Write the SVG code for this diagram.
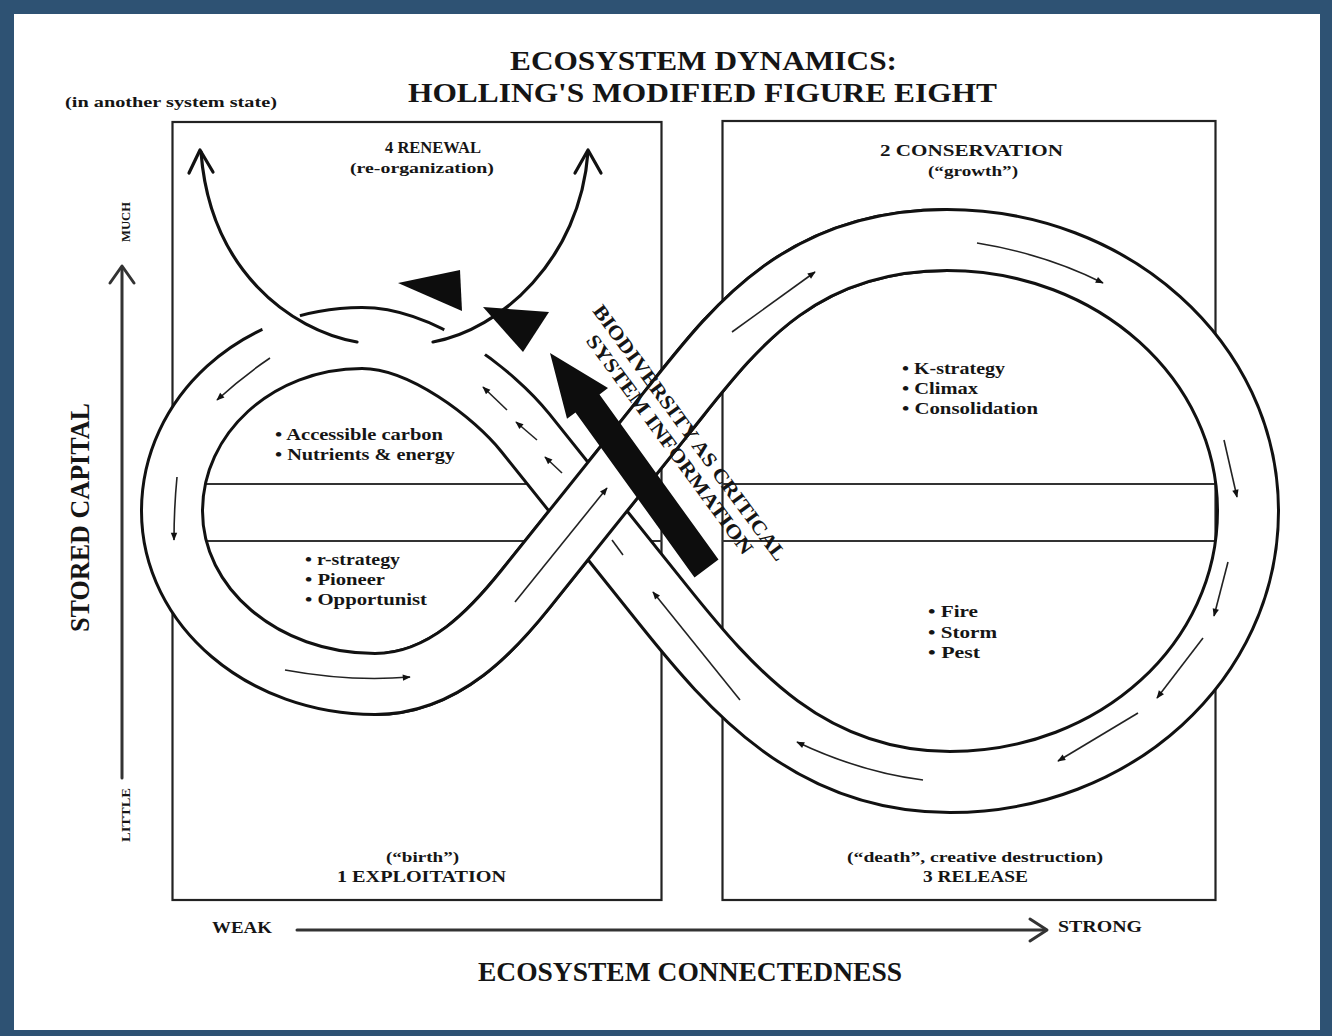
<svg xmlns="http://www.w3.org/2000/svg" width="1332" height="1036" viewBox="0 0 1332 1036">
<defs>
<style>
.t{font-family:"Liberation Serif","Times New Roman",serif;font-weight:bold;fill:#151515}
.edge{fill:none;stroke:#111;stroke-width:64;stroke-linecap:butt;stroke-linejoin:round}
.inner{fill:none;stroke:#fff;stroke-width:58;stroke-linecap:butt;stroke-linejoin:round}
.box{fill:none;stroke:#222;stroke-width:2.2}
.hl{stroke:#333;stroke-width:2}
.fa{fill:none;stroke:#222;stroke-width:1.6;marker-end:url(#ah)}
.tick{fill:none;stroke:#222;stroke-width:1.6}
.ax{fill:none;stroke:#333;stroke-width:3;stroke-linecap:round;stroke-linejoin:round}
.ren{fill:none;stroke:#111;stroke-width:3.2;stroke-linecap:round;stroke-linejoin:round}
.blk{fill:#0d0d0d}
</style>
<marker id="ah" viewBox="0 0 10 10" refX="9" refY="5" markerWidth="9" markerHeight="8" markerUnits="userSpaceOnUse" orient="auto">
<path d="M0,1 L10,5 L0,9 Z" fill="#111"/>
</marker>
<path id="band" d="M362,338 C257,338 172,415.5 172,511 C172,607 263,684 375,684 C445,684 494.3,628.1 525.5,589.1 L588,511 L669.3,409.5 C731.8,331.4 797,240 947,240 C1113,240 1248,361 1248,511 C1248,661 1116,782 950,782 C810,782 731.75,690.6 663,604.7 L588,511 L525.5,432.9 C494.25,393.85 422,338 362,338 Z"/>
<path id="over" d="M375,684 C445,684 494.3,628.1 525.5,589.1 L588,511 L669.3,409.5 C731.8,331.4 797,240 947,240"/>
</defs>

<rect width="1332" height="1036" fill="#2e5273"/>
<rect x="14" y="14" width="1306" height="1016" fill="#ffffff"/>

<g id="title">
<text class="t" x="510" y="70" font-size="27" textLength="387" lengthAdjust="spacingAndGlyphs">ECOSYSTEM DYNAMICS:</text>
<text class="t" x="408" y="102" font-size="27" textLength="589" lengthAdjust="spacingAndGlyphs">HOLLING'S MODIFIED FIGURE EIGHT</text>
<text class="t" x="65" y="107" font-size="14" textLength="212" lengthAdjust="spacingAndGlyphs">(in another system state)</text>
</g>

<g id="boxes">
<rect id="box-left" class="box" x="172.5" y="122" width="489" height="778"/>
<rect id="box-right" class="box" x="722.5" y="121" width="493" height="779"/>
<line class="hl" x1="190" y1="484" x2="662" y2="484"/>
<line class="hl" x1="190" y1="541" x2="662" y2="541"/>
<line class="hl" x1="722" y1="484" x2="1230" y2="484"/>
<line class="hl" x1="722" y1="541" x2="1230" y2="541"/>
</g>

<g id="figure-eight">
<use href="#band" class="edge"/>
<use href="#band" class="inner"/>
<use href="#over" class="edge"/>
<use href="#over" class="inner"/>
<circle cx="281" cy="322" r="20" fill="#fff"/>
<circle cx="466" cy="340" r="24" fill="#fff"/>
</g>

<g id="connectors">
<path class="fa" d="M270,358 Q242,377 217,400"/>
<path class="fa" d="M177,477 Q174,508 174,540"/>
<path class="fa" d="M285,670 Q350,682 410,677"/>
<path class="fa" d="M515,602 L607,488"/>
<path class="fa" d="M732,332 L815,272"/>
<path class="fa" d="M977,243 Q1045,254 1103,283"/>
<path class="fa" d="M1224,440 L1237,497"/>
<path class="fa" d="M1228,562 L1214,616"/>
<path class="fa" d="M1203,638 L1157,698"/>
<path class="fa" d="M1138,713 L1058,761"/>
<path class="fa" d="M923,780 Q860,772 797,742"/>
<path class="fa" d="M507,410 L483,387"/>
<path class="fa" d="M537,440 L516,422"/>
<path class="fa" d="M562,473 L545,457"/>
<path class="tick" d="M612,540 L623,555"/>
<path class="fa" d="M740,700 L653,592"/>

<path class="ren" d="M357,342 C290,330 210,270 201,152"/>
<path class="ren" d="M189,173 L200,150 L213,172"/>
<path class="ren" d="M433,342 C500,330 580,260 588,152"/>
<path class="ren" d="M575,173 L588,150 L601,173"/>
<polygon class="blk" points="398,283 460,270 462,311"/>
<polygon class="blk" points="483,307 549,312 523,352"/>

<g id="axes">
<path class="ax" d="M122,778 L122,268"/>
<path class="ax" d="M110,283 L122,266 L134,283"/>
<path class="ax" d="M297,930 L1046,930"/>
<path class="ax" d="M1030,919 L1047,930 L1030,941"/>
</g>
</g>

<g id="biodiversity-arrow">
<polygon class="blk" points="550,353 608,388 599.5,394.6 718.5,559.6 694.5,577.4 575.5,412.4 567,418.7"/>
<g transform="translate(592,311) rotate(53.7)">
<text class="t" x="0" y="0" font-size="20" textLength="312" lengthAdjust="spacingAndGlyphs">BIODIVERSITY AS CRITICAL</text>
<text class="t" x="20" y="23" font-size="20" textLength="267" lengthAdjust="spacingAndGlyphs">SYSTEM INFORMATION</text>
</g>
</g>

<g id="renewal">
<text class="t" x="385" y="153" font-size="16" textLength="96" lengthAdjust="spacingAndGlyphs">4 RENEWAL</text>
<text class="t" x="350" y="173" font-size="15" textLength="144" lengthAdjust="spacingAndGlyphs">(re-organization)</text>
</g>

<g id="conservation">
<text class="t" x="880" y="156" font-size="16" textLength="183" lengthAdjust="spacingAndGlyphs">2 CONSERVATION</text>
<text class="t" x="928" y="176" font-size="15" textLength="90" lengthAdjust="spacingAndGlyphs">(“growth”)</text>
<text class="t" x="902" y="374" font-size="16" textLength="103" lengthAdjust="spacingAndGlyphs">• K-strategy</text>
<text class="t" x="902" y="394" font-size="16" textLength="76" lengthAdjust="spacingAndGlyphs">• Climax</text>
<text class="t" x="902" y="414" font-size="16" textLength="136" lengthAdjust="spacingAndGlyphs">• Consolidation</text>
</g>

<g id="exploitation">
<text class="t" x="275" y="440" font-size="16" textLength="168" lengthAdjust="spacingAndGlyphs">• Accessible carbon</text>
<text class="t" x="275" y="460" font-size="16" textLength="180" lengthAdjust="spacingAndGlyphs">• Nutrients &amp; energy</text>
<text class="t" x="305" y="565" font-size="16" textLength="95" lengthAdjust="spacingAndGlyphs">• r-strategy</text>
<text class="t" x="305" y="585" font-size="16" textLength="80" lengthAdjust="spacingAndGlyphs">• Pioneer</text>
<text class="t" x="305" y="605" font-size="16" textLength="122" lengthAdjust="spacingAndGlyphs">• Opportunist</text>
<text class="t" x="386" y="862" font-size="15" textLength="73" lengthAdjust="spacingAndGlyphs">(“birth”)</text>
<text class="t" x="337" y="882" font-size="16" textLength="169" lengthAdjust="spacingAndGlyphs">1 EXPLOITATION</text>
</g>

<g id="release">
<text class="t" x="928" y="617" font-size="16" textLength="50" lengthAdjust="spacingAndGlyphs">• Fire</text>
<text class="t" x="928" y="638" font-size="16" textLength="69" lengthAdjust="spacingAndGlyphs">• Storm</text>
<text class="t" x="928" y="658" font-size="16" textLength="52" lengthAdjust="spacingAndGlyphs">• Pest</text>
<text class="t" x="847" y="862" font-size="15" textLength="256" lengthAdjust="spacingAndGlyphs">(“death”, creative destruction)</text>
<text class="t" x="923" y="882" font-size="16" textLength="105" lengthAdjust="spacingAndGlyphs">3 RELEASE</text>
</g>

<g id="axis-labels">
<text class="t" x="212" y="933" font-size="16" textLength="60" lengthAdjust="spacingAndGlyphs">WEAK</text>
<text class="t" x="1058" y="932" font-size="16" textLength="84" lengthAdjust="spacingAndGlyphs">STRONG</text>
<text class="t" x="478" y="981" font-size="27" textLength="424" lengthAdjust="spacingAndGlyphs">ECOSYSTEM CONNECTEDNESS</text>
<text class="t" transform="translate(89,632) rotate(-90)" font-size="27" textLength="229" lengthAdjust="spacingAndGlyphs">STORED CAPITAL</text>
<text class="t" transform="translate(130,242) rotate(-90)" font-size="12" textLength="40" lengthAdjust="spacingAndGlyphs">MUCH</text>
<text class="t" transform="translate(130,842) rotate(-90)" font-size="12" textLength="54" lengthAdjust="spacingAndGlyphs">LITTLE</text>
</g>
</svg>
